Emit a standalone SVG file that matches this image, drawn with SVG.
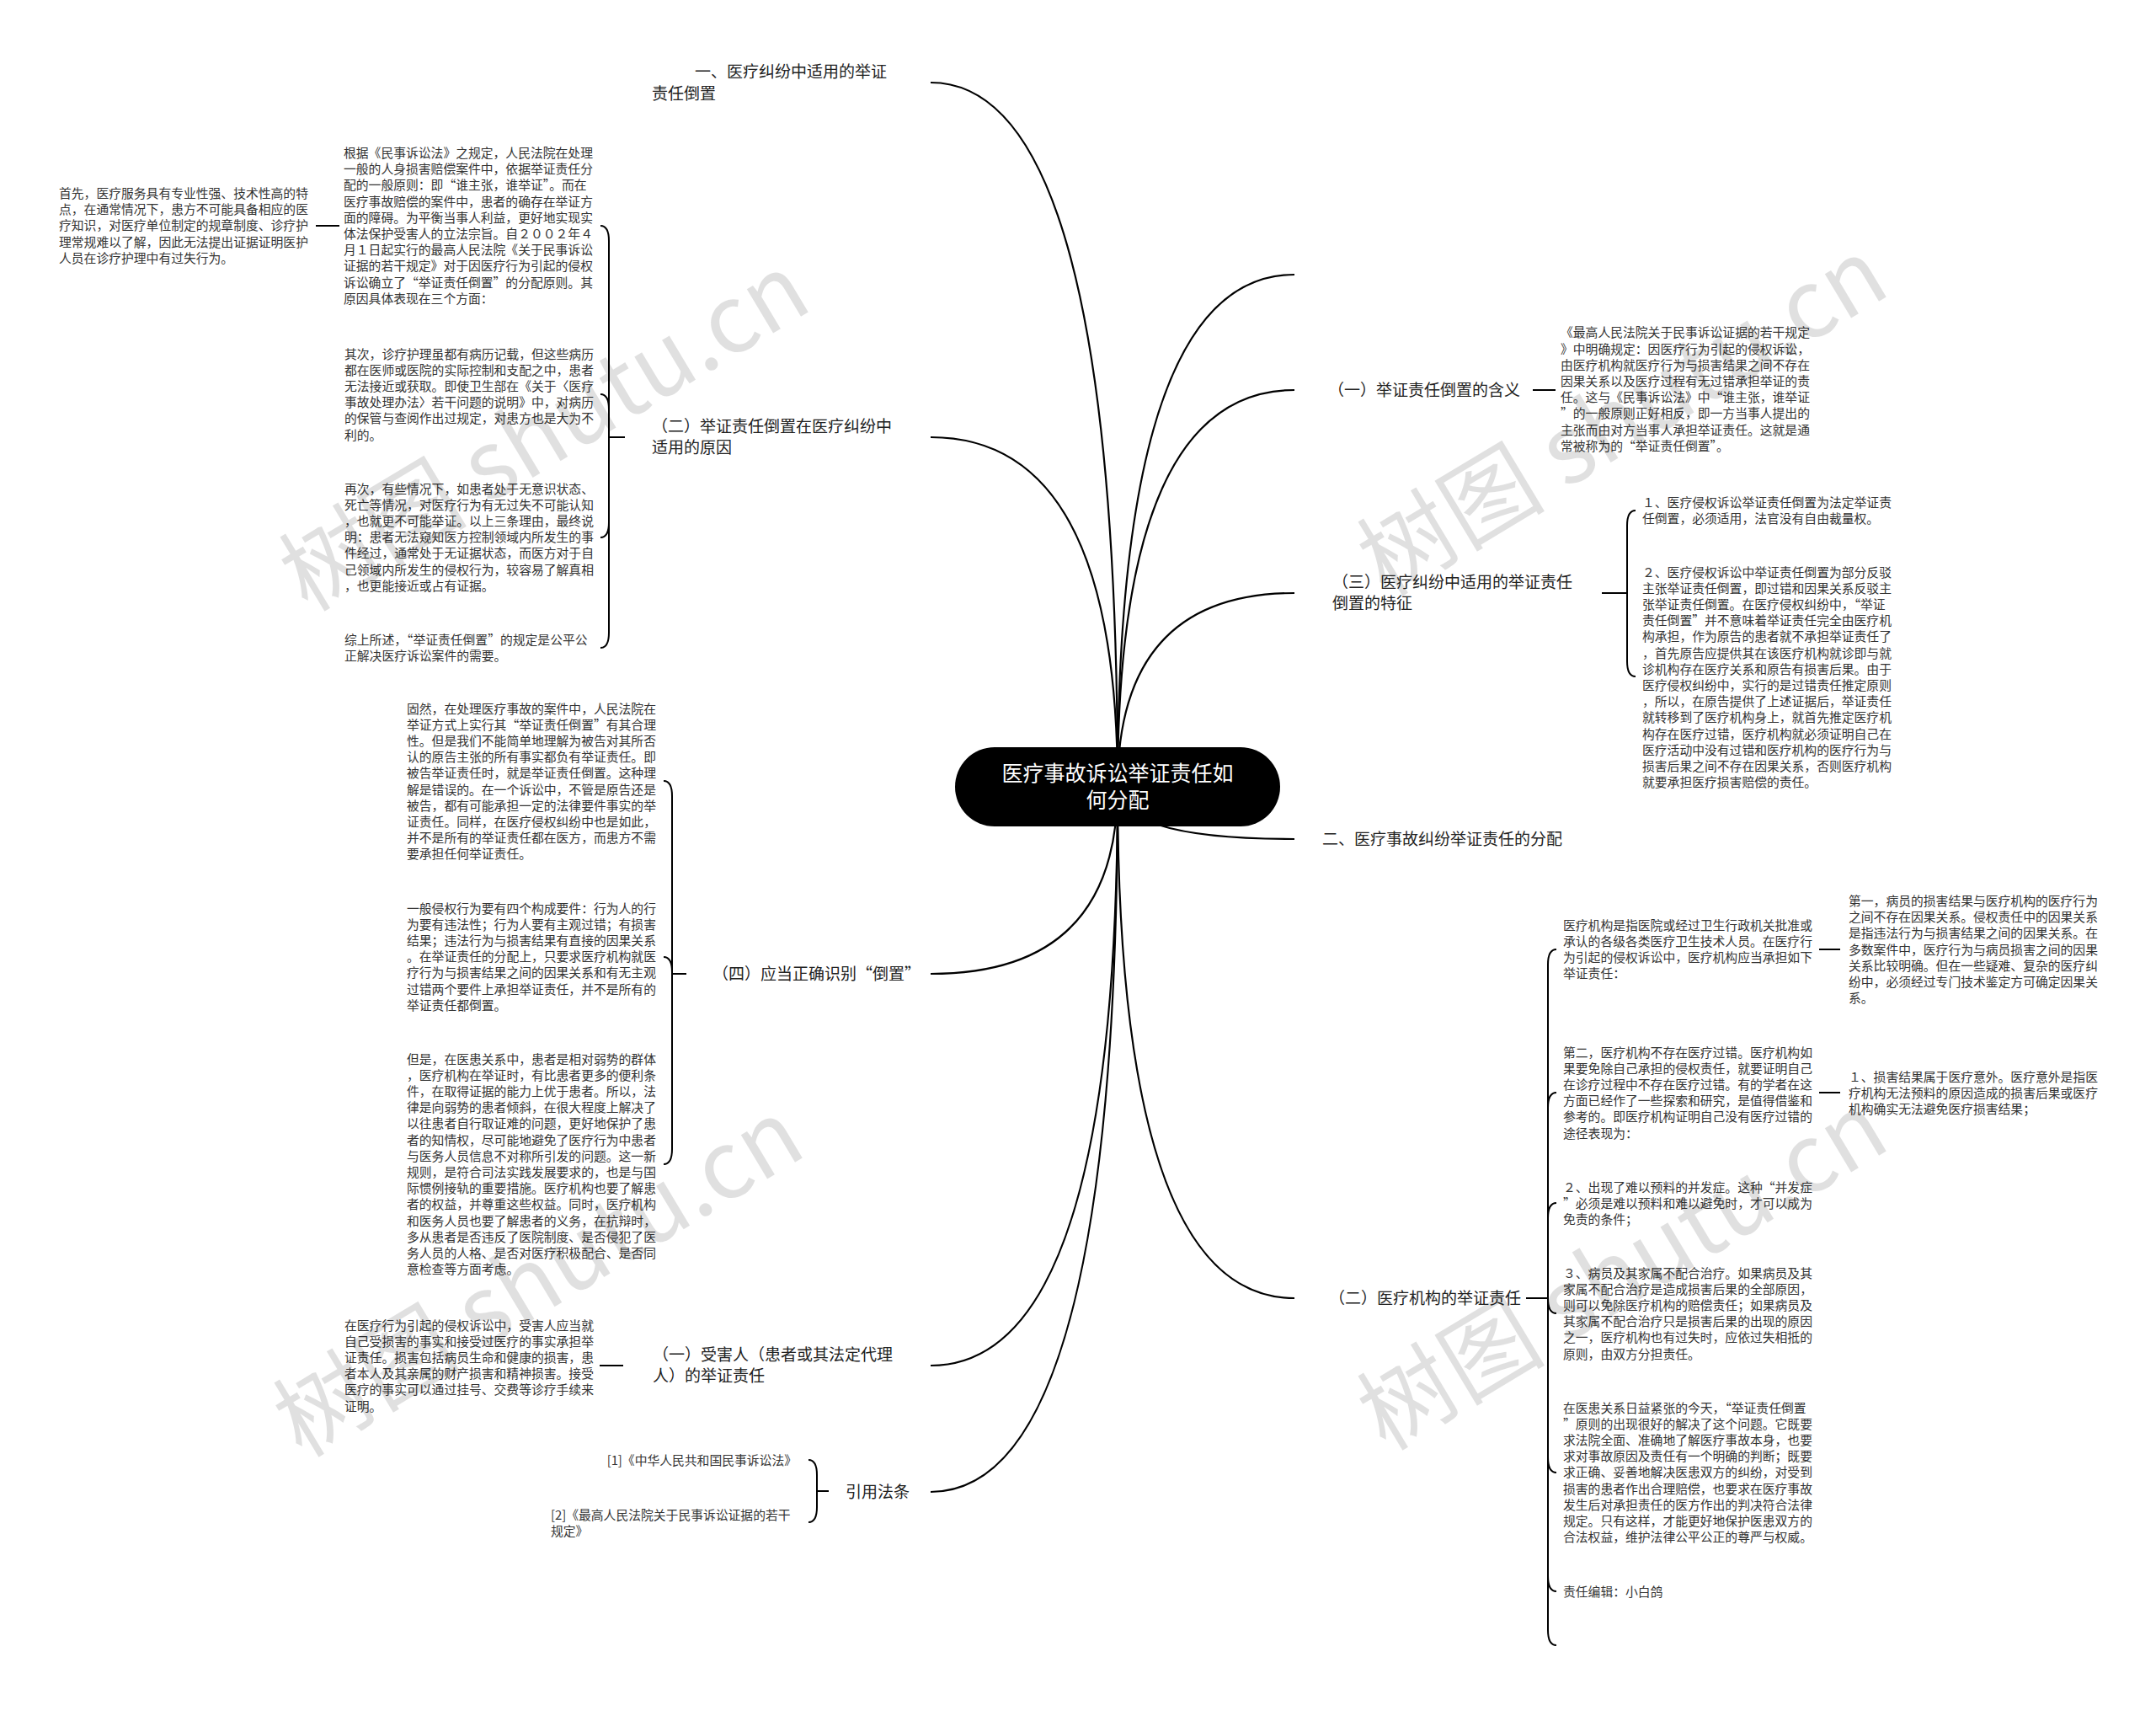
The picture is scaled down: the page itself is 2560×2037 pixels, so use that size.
<svg xmlns="http://www.w3.org/2000/svg" width="2560" height="2037" viewBox="0 0 2560 2037">
<style>
.t{font-family:'Noto Sans CJK SC','Noto Sans',sans-serif;font-size:14.8px;fill:#333}
.l1{font-family:'Noto Sans CJK SC','Noto Sans',sans-serif;font-size:19px;fill:#222}
.root{font-family:'Noto Sans CJK SC','Noto Sans',sans-serif;font-size:25px;fill:#fff}
.c{stroke:#000;stroke-width:2.2;fill:none}
.b{stroke:#000;stroke-width:2;fill:none}
.wm{font-family:'Noto Sans CJK SC','Noto Sans',sans-serif;font-size:112px;fill:#000;fill-opacity:0.12}
</style>
<rect width="2560" height="2037" fill="#fff"/>

<g id="connectors">
  <path class="c" d="M1327,934 Q1327,98 1105,98"/>
  <path class="c" d="M1327,934 Q1327,519 1105,519"/>
  <path class="c" d="M1327,934 Q1327,1156 1105,1156"/>
  <path class="c" d="M1327,934 Q1327,1621 1105,1621"/>
  <path class="c" d="M1327,934 Q1327,1771 1105,1771"/>
  <path class="c" d="M1327,934 Q1327,326 1537,326"/>
  <path class="c" d="M1327,934 Q1327,463 1537,463"/>
  <path class="c" d="M1327,934 Q1327,704 1537,704"/>
  <path class="c" d="M1327,934 Q1327,996 1537,996"/>
  <path class="c" d="M1327,934 Q1327,1541 1537,1541"/>
  <!-- B bracket -->
  <path class="b" d="M742,519 H723 V286 Q723,268 713,268"/>
  <path class="b" d="M742,519 H723 V486 Q723,468 713,468"/>
  <path class="b" d="M742,519 H723 V620 Q723,638 713,638"/>
  <path class="b" d="M742,519 H723 V751 Q723,769 713,769"/>
  <path class="b" d="M403,268 H375"/>
  <!-- D bracket -->
  <path class="b" d="M815,1156 H798 V945 Q798,927 788,927"/>
  <path class="b" d="M815,1156 H798 V1154 Q798,1136 788,1136"/>
  <path class="b" d="M815,1156 H798 V1364 Q798,1382 788,1382"/>
  <!-- E -->
  <path class="b" d="M740,1621 H712"/>
  <!-- F bracket -->
  <path class="b" d="M984,1770 H970 V1751 Q970,1733 960,1733"/>
  <path class="b" d="M984,1770 H970 V1789 Q970,1807 960,1807"/>
  <!-- R1 -->
  <path class="b" d="M1820,463 H1847"/>
  <!-- R3 bracket -->
  <path class="b" d="M1902,704 H1932 V624 Q1932,606 1942,606"/>
  <path class="b" d="M1902,704 H1932 V785 Q1932,803 1942,803"/>
  <!-- R4 bracket -->
  <path class="b" d="M1812,1541 H1838 V1145 Q1838,1127 1848,1127"/>
  <path class="b" d="M1812,1541 H1838 V1315 Q1838,1297 1848,1297"/>
  <path class="b" d="M1812,1541 H1838 V1446 Q1838,1428 1848,1428"/>
  <path class="b" d="M1812,1541 H1838 V1541 Q1838,1559 1848,1559"/>
  <path class="b" d="M1812,1541 H1838 V1730 Q1838,1748 1848,1748"/>
  <path class="b" d="M1812,1541 H1838 V1871 Q1838,1889 1848,1889"/>
  <path class="b" d="M1812,1541 H1838 V1935 Q1838,1953 1848,1953"/>
  <path class="b" d="M2160,1127 H2185"/>
  <path class="b" d="M2160,1297 H2185"/>
</g>

<g id="root">
  <rect x="1134" y="887" width="386" height="94" rx="47" fill="#000"/>
  <text class="root" text-anchor="middle"><tspan x="1327" y="926.5">医疗事故诉讼举证责任如</tspan><tspan x="1327" y="958.5">何分配</tspan></text>
</g>

<g id="n-a"><text class="l1"><tspan x="825" y="92">一、医疗纠纷中适用的举证</tspan><tspan x="774" y="118">责任倒置</tspan></text></g>
<g id="n-b"><text class="l1"><tspan x="774" y="513">（二）举证责任倒置在医疗纠纷中</tspan><tspan x="774" y="538">适用的原因</tspan></text></g>
<g id="n-d"><text class="l1" x="846" y="1163">（四）应当正确识别“倒置”</text></g>
<g id="n-e"><text class="l1"><tspan x="775" y="1615">（一）受害人（患者或其法定代理</tspan><tspan x="775" y="1640">人）的举证责任</tspan></text></g>
<g id="n-f"><text class="l1" x="1004" y="1778">引用法条</text></g>
<g id="n-r1"><text class="l1" x="1577" y="470">（一）举证责任倒置的含义</text></g>
<g id="n-r3"><text class="l1"><tspan x="1582" y="698">（三）医疗纠纷中适用的举证责任</tspan><tspan x="1582" y="723">倒置的特征</tspan></text></g>
<g id="n-r2"><text class="l1" x="1570" y="1003">二、医疗事故纠纷举证责任的分配</text></g>
<g id="n-r4"><text class="l1" x="1578" y="1548">（二）医疗机构的举证责任</text></g>

<g id="n-b1"><text class="t" x="408" y="187">
<tspan x="408" dy="0">根据《民事诉讼法》之规定，人民法院在处理</tspan>
<tspan x="408" dy="19.2">一般的人身损害赔偿案件中，依据举证责任分</tspan>
<tspan x="408" dy="19.2">配的一般原则：即“谁主张，谁举证”。而在</tspan>
<tspan x="408" dy="19.2">医疗事故赔偿的案件中，患者的确存在举证方</tspan>
<tspan x="408" dy="19.2">面的障碍。为平衡当事人利益，更好地实现实</tspan>
<tspan x="408" dy="19.2">体法保护受害人的立法宗旨。自２００２年４</tspan>
<tspan x="408" dy="19.2">月１日起实行的最高人民法院《关于民事诉讼</tspan>
<tspan x="408" dy="19.2">证据的若干规定》对于因医疗行为引起的侵权</tspan>
<tspan x="408" dy="19.2">诉讼确立了“举证责任倒置”的分配原则。其</tspan>
<tspan x="408" dy="19.2">原因具体表现在三个方面：</tspan></text></g>

<g id="n-b1a"><text class="t" x="70" y="235">
<tspan x="70" dy="0">首先，医疗服务具有专业性强、技术性高的特</tspan>
<tspan x="70" dy="19.2">点，在通常情况下，患方不可能具备相应的医</tspan>
<tspan x="70" dy="19.2">疗知识，对医疗单位制定的规章制度、诊疗护</tspan>
<tspan x="70" dy="19.2">理常规难以了解，因此无法提出证据证明医护</tspan>
<tspan x="70" dy="19.2">人员在诊疗护理中有过失行为。</tspan></text></g>

<g id="n-b2"><text class="t" x="409" y="425.6">
<tspan x="409" dy="0">其次，诊疗护理虽都有病历记载，但这些病历</tspan>
<tspan x="409" dy="19.2">都在医师或医院的实际控制和支配之中，患者</tspan>
<tspan x="409" dy="19.2">无法接近或获取。即使卫生部在《关于〈医疗</tspan>
<tspan x="409" dy="19.2">事故处理办法〉若干问题的说明》中，对病历</tspan>
<tspan x="409" dy="19.2">的保管与查阅作出过规定，对患方也是大为不</tspan>
<tspan x="409" dy="19.2">利的。</tspan></text></g>

<g id="n-b3"><text class="t" x="409" y="585.6">
<tspan x="409" dy="0">再次，有些情况下，如患者处于无意识状态、</tspan>
<tspan x="409" dy="19.2">死亡等情况，对医疗行为有无过失不可能认知</tspan>
<tspan x="409" dy="19.2">，也就更不可能举证。以上三条理由，最终说</tspan>
<tspan x="409" dy="19.2">明：患者无法窥知医方控制领域内所发生的事</tspan>
<tspan x="409" dy="19.2">件经过，通常处于无证据状态，而医方对于自</tspan>
<tspan x="409" dy="19.2">己领域内所发生的侵权行为，较容易了解真相</tspan>
<tspan x="409" dy="19.2">，也更能接近或占有证据。</tspan></text></g>

<g id="n-b4"><text class="t" x="409" y="764.6">
<tspan x="409" dy="0">综上所述，“举证责任倒置”的规定是公平公</tspan>
<tspan x="409" dy="19.2">正解决医疗诉讼案件的需要。</tspan></text></g>

<g id="n-d1"><text class="t" x="483" y="846.6">
<tspan x="483" dy="0">固然，在处理医疗事故的案件中，人民法院在</tspan>
<tspan x="483" dy="19.2">举证方式上实行其“举证责任倒置”有其合理</tspan>
<tspan x="483" dy="19.2">性。但是我们不能简单地理解为被告对其所否</tspan>
<tspan x="483" dy="19.2">认的原告主张的所有事实都负有举证责任。即</tspan>
<tspan x="483" dy="19.2">被告举证责任时，就是举证责任倒置。这种理</tspan>
<tspan x="483" dy="19.2">解是错误的。在一个诉讼中，不管是原告还是</tspan>
<tspan x="483" dy="19.2">被告，都有可能承担一定的法律要件事实的举</tspan>
<tspan x="483" dy="19.2">证责任。同样，在医疗侵权纠纷中也是如此，</tspan>
<tspan x="483" dy="19.2">并不是所有的举证责任都在医方，而患方不需</tspan>
<tspan x="483" dy="19.2">要承担任何举证责任。</tspan></text></g>

<g id="n-d2"><text class="t" x="483" y="1083.6">
<tspan x="483" dy="0">一般侵权行为要有四个构成要件：行为人的行</tspan>
<tspan x="483" dy="19.2">为要有违法性；行为人要有主观过错；有损害</tspan>
<tspan x="483" dy="19.2">结果；违法行为与损害结果有直接的因果关系</tspan>
<tspan x="483" dy="19.2">。在举证责任的分配上，只要求医疗机构就医</tspan>
<tspan x="483" dy="19.2">疗行为与损害结果之间的因果关系和有无主观</tspan>
<tspan x="483" dy="19.2">过错两个要件上承担举证责任，并不是所有的</tspan>
<tspan x="483" dy="19.2">举证责任都倒置。</tspan></text></g>

<g id="n-d3"><text class="t" x="483" y="1262.6">
<tspan x="483" dy="0">但是，在医患关系中，患者是相对弱势的群体</tspan>
<tspan x="483" dy="19.2">，医疗机构在举证时，有比患者更多的便利条</tspan>
<tspan x="483" dy="19.2">件，在取得证据的能力上优于患者。所以，法</tspan>
<tspan x="483" dy="19.2">律是向弱势的患者倾斜，在很大程度上解决了</tspan>
<tspan x="483" dy="19.2">以往患者自行取证难的问题，更好地保护了患</tspan>
<tspan x="483" dy="19.2">者的知情权，尽可能地避免了医疗行为中患者</tspan>
<tspan x="483" dy="19.2">与医务人员信息不对称所引发的问题。这一新</tspan>
<tspan x="483" dy="19.2">规则，是符合司法实践发展要求的，也是与国</tspan>
<tspan x="483" dy="19.2">际惯例接轨的重要措施。医疗机构也要了解患</tspan>
<tspan x="483" dy="19.2">者的权益，并尊重这些权益。同时，医疗机构</tspan>
<tspan x="483" dy="19.2">和医务人员也要了解患者的义务，在抗辩时，</tspan>
<tspan x="483" dy="19.2">多从患者是否违反了医院制度、是否侵犯了医</tspan>
<tspan x="483" dy="19.2">务人员的人格、是否对医疗积极配合、是否同</tspan>
<tspan x="483" dy="19.2">意检查等方面考虑。</tspan></text></g>

<g id="n-e1"><text class="t" x="409" y="1578.6">
<tspan x="409" dy="0">在医疗行为引起的侵权诉讼中，受害人应当就</tspan>
<tspan x="409" dy="19.2">自己受损害的事实和接受过医疗的事实承担举</tspan>
<tspan x="409" dy="19.2">证责任。损害包括病员生命和健康的损害，患</tspan>
<tspan x="409" dy="19.2">者本人及其亲属的财产损害和精神损害。接受</tspan>
<tspan x="409" dy="19.2">医疗的事实可以通过挂号、交费等诊疗手续来</tspan>
<tspan x="409" dy="19.2">证明。</tspan></text></g>

<g id="n-f1"><text class="t" x="946" y="1738.6" text-anchor="end">[1]《中华人民共和国民事诉讼法》</text></g>
<g id="n-f2"><text class="t" x="654" y="1803.6">
<tspan x="654" dy="0">[2]《最高人民法院关于民事诉讼证据的若干</tspan>
<tspan x="654" dy="19.2">规定》</tspan></text></g>

<g id="n-r1a"><text class="t" x="1853" y="400.4">
<tspan x="1853" dy="0">《最高人民法院关于民事诉讼证据的若干规定</tspan>
<tspan x="1853" dy="19.2">》中明确规定：因医疗行为引起的侵权诉讼，</tspan>
<tspan x="1853" dy="19.2">由医疗机构就医疗行为与损害结果之间不存在</tspan>
<tspan x="1853" dy="19.2">因果关系以及医疗过程有无过错承担举证的责</tspan>
<tspan x="1853" dy="19.2">任。这与《民事诉讼法》中“谁主张，谁举证</tspan>
<tspan x="1853" dy="19.2">”的一般原则正好相反，即一方当事人提出的</tspan>
<tspan x="1853" dy="19.2">主张而由对方当事人承担举证责任。这就是通</tspan>
<tspan x="1853" dy="19.2">常被称为的“举证责任倒置”。</tspan></text></g>

<g id="n-r3a"><text class="t" x="1950" y="601.6">
<tspan x="1950" dy="0">１、医疗侵权诉讼举证责任倒置为法定举证责</tspan>
<tspan x="1950" dy="19.2">任倒置，必须适用，法官没有自由裁量权。</tspan></text></g>

<g id="n-r3b"><text class="t" x="1950" y="684.6">
<tspan x="1950" dy="0">２、医疗侵权诉讼中举证责任倒置为部分反驳</tspan>
<tspan x="1950" dy="19.2">主张举证责任倒置，即过错和因果关系反驳主</tspan>
<tspan x="1950" dy="19.2">张举证责任倒置。在医疗侵权纠纷中，“举证</tspan>
<tspan x="1950" dy="19.2">责任倒置”并不意味着举证责任完全由医疗机</tspan>
<tspan x="1950" dy="19.2">构承担，作为原告的患者就不承担举证责任了</tspan>
<tspan x="1950" dy="19.2">，首先原告应提供其在该医疗机构就诊即与就</tspan>
<tspan x="1950" dy="19.2">诊机构存在医疗关系和原告有损害后果。由于</tspan>
<tspan x="1950" dy="19.2">医疗侵权纠纷中，实行的是过错责任推定原则</tspan>
<tspan x="1950" dy="19.2">，所以，在原告提供了上述证据后，举证责任</tspan>
<tspan x="1950" dy="19.2">就转移到了医疗机构身上，就首先推定医疗机</tspan>
<tspan x="1950" dy="19.2">构存在医疗过错，医疗机构就必须证明自己在</tspan>
<tspan x="1950" dy="19.2">医疗活动中没有过错和医疗机构的医疗行为与</tspan>
<tspan x="1950" dy="19.2">损害后果之间不存在因果关系，否则医疗机构</tspan>
<tspan x="1950" dy="19.2">就要承担医疗损害赔偿的责任。</tspan></text></g>

<g id="n-r4a"><text class="t" x="1856" y="1103.6">
<tspan x="1856" dy="0">医疗机构是指医院或经过卫生行政机关批准或</tspan>
<tspan x="1856" dy="19.2">承认的各级各类医疗卫生技术人员。在医疗行</tspan>
<tspan x="1856" dy="19.2">为引起的侵权诉讼中，医疗机构应当承担如下</tspan>
<tspan x="1856" dy="19.2">举证责任：</tspan></text></g>

<g id="n-r4a1"><text class="t" x="2195" y="1075">
<tspan x="2195" dy="0">第一，病员的损害结果与医疗机构的医疗行为</tspan>
<tspan x="2195" dy="19.2">之间不存在因果关系。侵权责任中的因果关系</tspan>
<tspan x="2195" dy="19.2">是指违法行为与损害结果之间的因果关系。在</tspan>
<tspan x="2195" dy="19.2">多数案件中，医疗行为与病员损害之间的因果</tspan>
<tspan x="2195" dy="19.2">关系比较明确。但在一些疑难、复杂的医疗纠</tspan>
<tspan x="2195" dy="19.2">纷中，必须经过专门技术鉴定方可确定因果关</tspan>
<tspan x="2195" dy="19.2">系。</tspan></text></g>

<g id="n-r4b"><text class="t" x="1856" y="1254.6">
<tspan x="1856" dy="0">第二，医疗机构不存在医疗过错。医疗机构如</tspan>
<tspan x="1856" dy="19.2">果要免除自己承担的侵权责任，就要证明自己</tspan>
<tspan x="1856" dy="19.2">在诊疗过程中不存在医疗过错。有的学者在这</tspan>
<tspan x="1856" dy="19.2">方面已经作了一些探索和研究，是值得借鉴和</tspan>
<tspan x="1856" dy="19.2">参考的。即医疗机构证明自己没有医疗过错的</tspan>
<tspan x="1856" dy="19.2">途径表现为：</tspan></text></g>

<g id="n-r4b1"><text class="t" x="2195" y="1283.6">
<tspan x="2195" dy="0">１、损害结果属于医疗意外。医疗意外是指医</tspan>
<tspan x="2195" dy="19.2">疗机构无法预料的原因造成的损害后果或医疗</tspan>
<tspan x="2195" dy="19.2">机构确实无法避免医疗损害结果；</tspan></text></g>

<g id="n-r4c"><text class="t" x="1856" y="1414.6">
<tspan x="1856" dy="0">２、出现了难以预料的并发症。这种“并发症</tspan>
<tspan x="1856" dy="19.2">”必须是难以预料和难以避免时，才可以成为</tspan>
<tspan x="1856" dy="19.2">免责的条件；</tspan></text></g>

<g id="n-r4d"><text class="t" x="1856" y="1516.6">
<tspan x="1856" dy="0">３、病员及其家属不配合治疗。如果病员及其</tspan>
<tspan x="1856" dy="19.2">家属不配合治疗是造成损害后果的全部原因，</tspan>
<tspan x="1856" dy="19.2">则可以免除医疗机构的赔偿责任；如果病员及</tspan>
<tspan x="1856" dy="19.2">其家属不配合治疗只是损害后果的出现的原因</tspan>
<tspan x="1856" dy="19.2">之一，医疗机构也有过失时，应依过失相抵的</tspan>
<tspan x="1856" dy="19.2">原则，由双方分担责任。</tspan></text></g>

<g id="n-r4e"><text class="t" x="1856" y="1676.6">
<tspan x="1856" dy="0">在医患关系日益紧张的今天，“举证责任倒置</tspan>
<tspan x="1856" dy="19.2">”原则的出现很好的解决了这个问题。它既要</tspan>
<tspan x="1856" dy="19.2">求法院全面、准确地了解医疗事故本身，也要</tspan>
<tspan x="1856" dy="19.2">求对事故原因及责任有一个明确的判断；既要</tspan>
<tspan x="1856" dy="19.2">求正确、妥善地解决医患双方的纠纷，对受到</tspan>
<tspan x="1856" dy="19.2">损害的患者作出合理赔偿，也要求在医疗事故</tspan>
<tspan x="1856" dy="19.2">发生后对承担责任的医方作出的判决符合法律</tspan>
<tspan x="1856" dy="19.2">规定。只有这样，才能更好地保护医患双方的</tspan>
<tspan x="1856" dy="19.2">合法权益，维护法律公平公正的尊严与权威。</tspan></text></g>

<g id="n-r4f"><text class="t" x="1856" y="1894.6">责任编辑：小白鸽</text></g>

<g id="watermarks">
  <text class="wm" text-anchor="middle" transform="translate(647,514) rotate(-31)" y="38">树图 shutu.cn</text>
  <text class="wm" text-anchor="middle" transform="translate(1927,496) rotate(-31)" y="38">树图 shutu.cn</text>
  <text class="wm" text-anchor="middle" transform="translate(640,1518) rotate(-31)" y="38">树图 shutu.cn</text>
  <text class="wm" text-anchor="middle" transform="translate(1927,1510) rotate(-31)" y="38">树图 shutu.cn</text>
</g>
</svg>
